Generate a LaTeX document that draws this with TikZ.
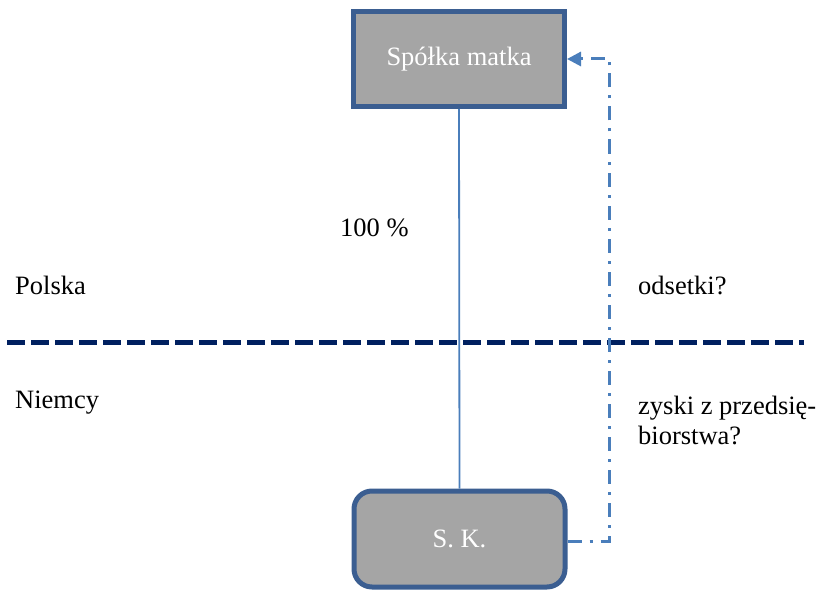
\documentclass[tikz,border=0pt]{standalone}
\usepackage{fontspec}
\setmainfont{Liberation Serif}
\usetikzlibrary{arrows.meta}
\definecolor{boxborder}{HTML}{3B5E91}
\definecolor{boxfill}{HTML}{A5A5A5}
\definecolor{linkblue}{HTML}{4A7EBB}
\definecolor{navy}{HTML}{002060}
\tikzset{
  entity/.style={draw=boxborder, line width=5pt, fill=boxfill, text=white,
    minimum width=211pt, inner sep=0pt, font=\fontsize{26.5}{31}\selectfont},
  label/.style={font=\fontsize{26.5}{30}\selectfont, anchor=west, inner sep=0pt, align=left},
  flow/.style={draw=linkblue, line width=3pt, dash pattern=on 14pt off 8pt on 3pt off 8pt},
  border/.style={draw=navy, line width=5pt, dash pattern=on 18pt off 6pt}
}
\begin{document}
\begin{tikzpicture}[x=1pt,y=-1pt]
\useasboundingbox (0,0) rectangle (819,591);
\node[entity, minimum height=95pt] (matka) at (459,59) {Spółka matka};
\node[entity, minimum height=96pt, rounded corners=18pt] (sk) at (459.5,539) {S. K.};
\coordinate (bl) at (7,342);
\coordinate (br) at (804,342);
\draw[border] (bl) -- (br);
\draw[linkblue, line width=1.8pt] (matka.south) -- (sk.north);
\coordinate (turn) at (609,541);
\draw[flow, -{Triangle[length=14pt,width=14pt]}] (sk.east |- turn) -- (turn) |- (matka.east);
\node[label] (pct) at (340,228) {100 \%};
\node[label] (pl) at (15,285) {Polska};
\node[label] (de) at (15,403) {Niemcy};
\node[label] (ods) at (638,285) {odsetki?};
\node[label, anchor=north west] (zys) at (638,396) {zyski z przedsię-\\biorstwa?};
\end{tikzpicture}
\end{document}
